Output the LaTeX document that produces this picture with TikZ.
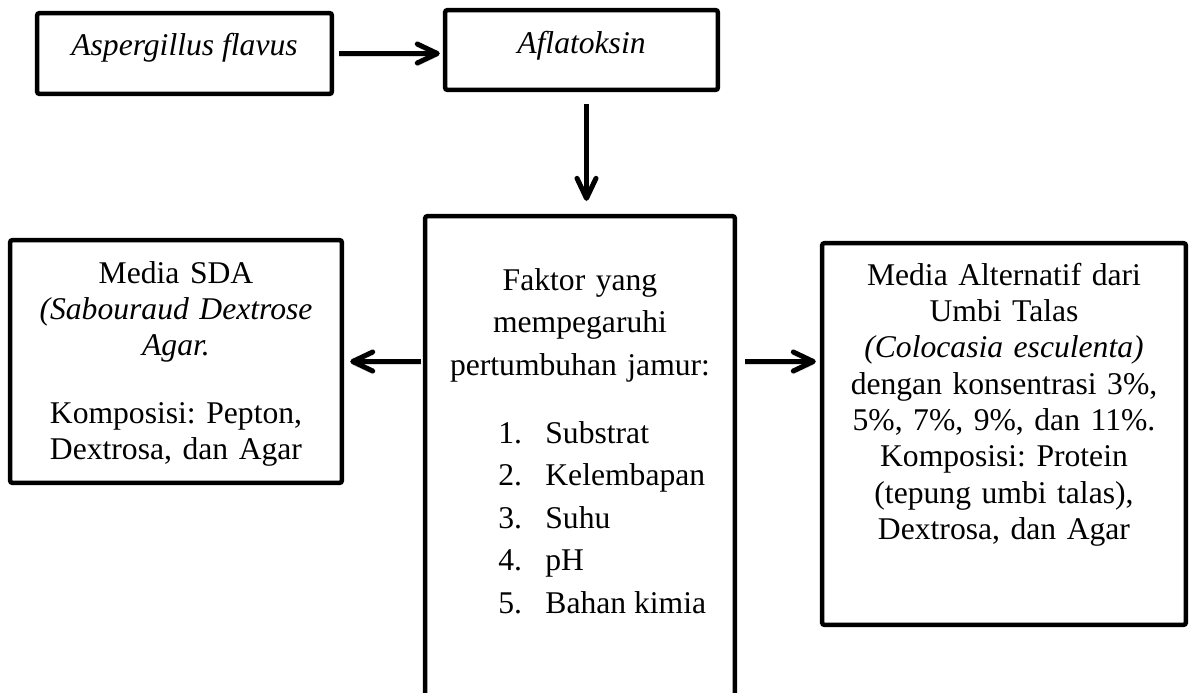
\documentclass[tikz,border=0pt]{standalone}
\usepackage{fontspec}
\setmainfont{Liberation Serif}
\usetikzlibrary{positioning,arrows.meta}

\tikzset{
  kotak/.style={draw, line width=0.09cm, rounded corners=1.5pt, inner sep=0pt},
  teks/.style={font=\fontsize{18}{20.7}\selectfont\frenchspacing, inner sep=0pt, align=center, anchor=base},
  panah/.style={line width=0.1cm, -{Straight Barb[length=0.4cm,width=0.38cm,round]},
    preaction={draw=black!15, transform canvas={yshift=-0.06cm}}},
}

\begin{document}
\begin{tikzpicture}[x=0.02cm,y=-0.02cm]
  \useasboundingbox (0,0) rectangle (1194,693);

  % kotak
  \node[kotak, minimum width=5.9cm, minimum height=1.62cm] (asp) at (184.5,53.5) {};
  \node[kotak, minimum width=5.46cm, minimum height=1.6cm] (afl) at (581.5,50) {};
  \node[kotak, minimum width=6.2cm, minimum height=10.08cm] (faktor) at (580,468) {};
  \node[kotak, minimum width=6.64cm, minimum height=4.86cm] (sda) at (176,361.5) {};
  \node[kotak, minimum width=7.28cm, minimum height=7.64cm] (alt) at (1004,434) {};

  % teks
  \node[teks] (asptxt) at (184.5,55) {\textit{Aspergillus flavus}};
  \node[teks] (afltxt) at (581.5,53.3) {\textit{Aflatoksin}};
  \node[teks, text width=6.3cm] (sdatxt) at (176,283)
    {Media SDA\\ \textit{(Sabouraud Dextrose}\\ \textit{Agar.}\\[17.6pt]
     Komposisi: Pepton,\\ Dextrosa, dan Agar};
  \node[teks, text width=6cm, font=\fontsize{18}{24.2}\selectfont] (faktortxt) at (580,290)
    {Faktor yang\\ mempegaruhi\\ pertumbuhan jamur:};
  \node[teks, anchor=base west, align=left, font=\fontsize{18}{24.2}\selectfont] (daftar) at (498,443)
    {\begin{tabular}[t]{@{}l@{\hspace{13.3pt}}l@{}}
       1. & Substrat\\ 2. & Kelembapan\\ 3. & Suhu\\ 4. & pH\\ 5. & Bahan kimia
     \end{tabular}};
  \node[teks, text width=7cm] (alttxt) at (1004,285)
    {Media Alternatif dari\\ Umbi Talas\\ \textit{(Colocasia esculenta)}\\
     dengan konsentrasi 3\%,\\ 5\%, 7\%, 9\%, dan 11\%.\\ Komposisi: Protein\\
     (tepung umbi talas),\\ Dextrosa, dan Agar};

  % panah
  \draw[panah, shorten <=0.1cm, shorten >=0.06cm] (asp.east) -- (asp.east -| afl.west);
  \draw[panah, shorten <=0.24cm, shorten >=0.26cm]
    ([xshift=0.1cm]afl.south) -- ([xshift=0.1cm]afl.south |- faktor.north);
  \draw[panah, shorten <=0.04cm, shorten >=0.12cm] (sda.east -| faktor.west) -- (sda.east);
  \draw[panah, shorten <=0.16cm, shorten >=0.08cm] (sda.east -| faktor.east) -- (sda.east -| alt.west);
\end{tikzpicture}
\end{document}
